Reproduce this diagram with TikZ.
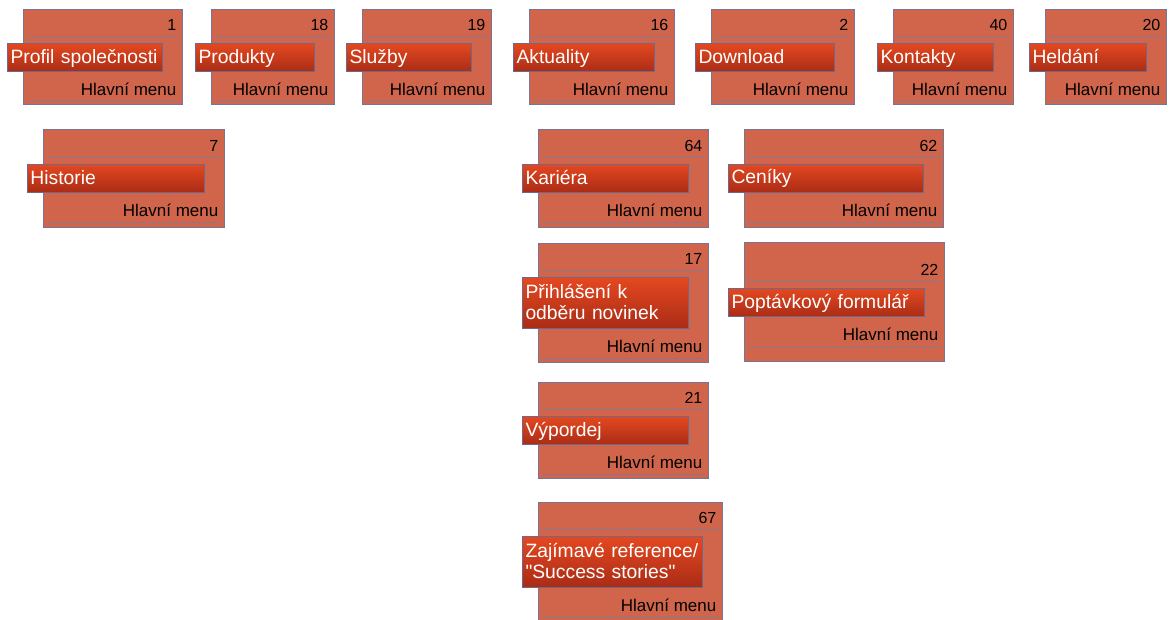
\documentclass[tikz,border=0pt]{standalone}
\usepackage{fontspec}
\setmainfont{Liberation Sans}
% a family without the TeX quote mapping, so straight quotes stay straight
\newfontfamily\tagfont{Liberation Sans}
\definecolor{panelfill}{RGB}{209,101,76}
\definecolor{panelline}{RGB}{122,116,148}
\definecolor{rulecol}{RGB}{140,118,140}
\definecolor{tagtop}{RGB}{228,72,32}
\definecolor{tagbot}{RGB}{170,44,22}
\definecolor{tagline}{RGB}{110,104,140}

% struts that place the label text the same way in every tag
\newcommand\tagtopstrut{\vrule height 15pt depth 0pt width 0pt}
\newcommand\tagbotstrut{\vrule height 0pt depth 3pt width 0pt}

\tikzset{
  panel/.style={draw=panelline, fill=panelfill, line width=0.9pt, inner sep=0pt, outer sep=0pt},
  rule/.style={draw=rulecol, line width=0.9pt},
  tag/.style={draw=tagline, line width=0.9pt, top color=tagtop, bottom color=tagbot,
    text=white, align=left, inner xsep=3.5pt, inner ysep=0pt, outer sep=0pt,
    font=\tagfont\fontsize{19.3}{21}\selectfont},
  num/.style={inner sep=0pt, font=\fontsize{16}{18}\selectfont},
  menu/.style={inner sep=0pt, font=\fontsize{17}{19}\selectfont},
}

% #1 name, #2 left, #3 right, #4 top, #5 bottom, #6 number,
% #7 label, #8 label height, #9 vertical shift of the content
\newcommand\menucard[9]{%
  \pgfmathsetmacro\cW{#3-#2}%
  \pgfmathsetmacro\cH{#5-#4}%
  \pgfmathsetmacro\cSep{#4+27.5+#9}%
  \pgfmathsetmacro\cTagTop{#4+34.5+#9}%
  \pgfmathsetmacro\cTagBot{\cTagTop+#8}%
  \pgfmathsetmacro\cNum{#4+16+#9+5.7}%
  \pgfmathsetmacro\cMenu{\cTagBot+18+6}%
  \pgfmathsetmacro\cLine{\cTagBot+30}%
  \pgfmathsetmacro\cTagL{#2-16}%
  \pgfmathsetmacro\cTagW{#3-20-\cTagL}%
  \pgfmathsetmacro\cTextW{\cTagW-7}%
  \node[panel, anchor=north west, minimum width=\cW pt, minimum height=\cH pt] (#1) at (#2,#4) {};
  \draw[rule] (#2+3.5,\cSep) -- (#3-3.5,\cSep);
  \draw[rule] (#2+3.5,\cLine) -- (#3-3.5,\cLine);
  \node[tag, anchor=north west, minimum width=\cTagW pt, minimum height=#8pt, text width=\cTextW pt] (#1-tag) at (\cTagL,\cTagTop) {\tagtopstrut#7\tagbotstrut};
  \node[num, anchor=base east] (#1-num) at (#3-5.5,\cNum) {#6};
  \node[menu, anchor=base east] (#1-menu) at (#3-5.5,\cMenu) {Hlavní menu};
}

\begin{document}
\begin{tikzpicture}[x=1pt,y=-1pt]
  \useasboundingbox (0,0) rectangle (1170,619);
  % main menu row
  \menucard{profil}{23}{182}{9}{104}{1}{Profil společnosti}{28}{0}
  \menucard{produkty}{211}{334}{9}{104}{18}{Produkty}{28}{0}
  \menucard{sluzby}{362}{491}{9}{104}{19}{Služby}{28}{0}
  \menucard{aktuality}{529}{674}{9}{104}{16}{Aktuality}{28}{0}
  \menucard{download}{711}{854}{9}{104}{2}{Download}{28}{0}
  \menucard{kontakty}{893}{1013}{9}{104}{40}{Kontakty}{28}{0}
  \menucard{heldani}{1045}{1166}{9}{104}{20}{Heldání}{28}{0}
  % second level
  \menucard{historie}{43}{224}{129.5}{227}{7}{Historie}{28}{0}
  \menucard{kariera}{538}{708}{129.5}{227}{64}{Kariéra}{28}{0}
  \menucard{ceniky}{744}{943}{129.5}{227}{62}{Ceníky}{28}{0}
  \menucard{novinky}{538}{708}{243}{362}{17}{Přihlášení k\\odběru novinek}{51}{0}
  \menucard{poptavka}{744}{944}{242}{361}{22}{Poptávkový formulář}{28}{12}
  \menucard{vyprodej}{538}{708}{382}{478}{21}{Výpordej}{28}{0}
  \menucard{reference}{538}{722}{502}{640}{67}{Zajímavé reference/\\"Success stories"}{50.5}{0}
\end{tikzpicture}
\end{document}
